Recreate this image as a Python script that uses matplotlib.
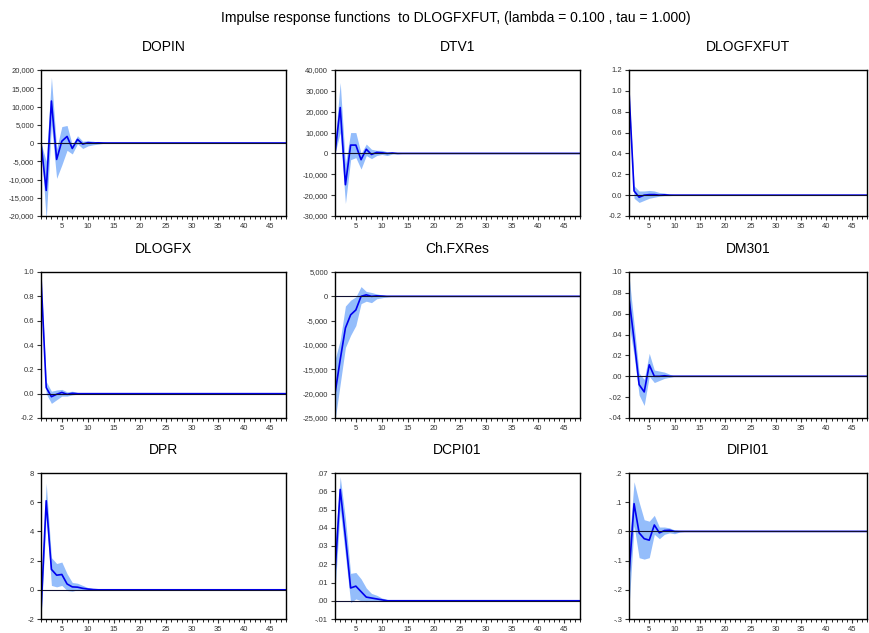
import matplotlib
matplotlib.use("Agg")
import matplotlib.pyplot as plt
import numpy as np

plt.rcParams['font.family'] = ['Liberation Sans', 'DejaVu Sans']

horizon = np.arange(1, 49)

titles = ["DOPIN", "DTV1", "DLOGFXFUT",
          "DLOGFX", "Ch.FXRes", "DM301",
          "DPR", "DCPI01", "DIPI01"]

# first periods, the rest is ~0
dopin = [0, -13000, 11500, -4500, 500, 1800, -1500, 1000, -300, 100, 0, 50, 0]
dopin_lo = [0, -21000, 5000, -9700, -6000, -2000, -3000, -200, -1500, -800, -500, -300, -100]
dopin_hi = [0, -5000, 18000, -1500, 4500, 4800, -500, 2000, 500, 600, 500, 200, 300]

dtv1 = [0, 22000, -15000, 4000, 4000, -3000, 2000, -500, 500, 300, 0, 200, 0]
dtv1_lo = [0, 10000, -24000, -3000, -2000, -7500, -1000, -2500, -1000, -500, -1000, -300, -200]
dtv1_hi = [5000, 34000, -5000, 10000, 10000, 0, 4500, 2000, 1500, 1500, 800, 500, 300]

dlogfxfut = [1.0, 0.04, -0.02, 0.0, 0.005, 0.005, 0.0, 0.003, 0.0, 0.0]
dlogfxfut_lo = [1.0, -0.03, -0.07, -0.05, -0.03, -0.02, -0.01, -0.005, -0.005, -0.002]
dlogfxfut_hi = [1.0, 0.09, 0.04, 0.04, 0.045, 0.04, 0.025, 0.02, 0.01, 0.005]

dlogfx = [0.96, 0.05, -0.025, -0.005, 0.01, -0.005, 0.003, 0.0, 0.0]
dlogfx_lo = [0.96, 0.0, -0.08, -0.05, -0.02, -0.02, -0.01, -0.005, -0.002]
dlogfx_hi = [0.96, 0.1, 0.02, 0.03, 0.035, 0.015, 0.02, 0.01, 0.005]

fxres = [-20000, -13000, -6500, -3800, -2800, 0, 300, 0, 100, 50, 0]
fxres_lo = [-25500, -18000, -10500, -8000, -6000, -1500, -1000, -1300, -500, -300, -100]
fxres_hi = [-13000, -9000, -2000, -800, -100, 2000, 1000, 800, 500, 300, 100]

dm301 = [0.075, 0.035, -0.008, -0.015, 0.011, 0.0, 0.0, 0.0005, 0.0]
dm301_lo = [0.05, 0.02, -0.018, -0.028, 0.0, -0.006, -0.004, -0.002, -0.001]
dm301_hi = [0.097, 0.05, 0.003, -0.003, 0.022, 0.006, 0.005, 0.004, 0.002]

dpr = [-1.5, 6.1, 1.4, 1.0, 1.05, 0.4, 0.2, 0.18, 0.1, 0.05, 0.02, 0.0]
dpr_lo = [-2.1, 5.0, 0.3, 0.2, 0.3, -0.05, -0.1, 0.0, 0.0, 0.0, 0.0, 0.0]
dpr_hi = [0.0, 7.3, 2.2, 1.8, 1.9, 1.1, 0.5, 0.45, 0.3, 0.15, 0.08, 0.03]

dcpi01 = [0.015, 0.061, 0.035, 0.007, 0.008, 0.005, 0.002, 0.0015, 0.001, 0.0005, 0.0]
dcpi01_lo = [0.005, 0.05, 0.025, -0.001, 0.001, 0.0, -0.0005, 0.0, 0.0, 0.0, 0.0]
dcpi01_hi = [0.03, 0.068, 0.045, 0.015, 0.0155, 0.012, 0.007, 0.004, 0.003, 0.0015, 0.0008]

dipi01 = [-0.15, 0.095, -0.005, -0.025, -0.03, 0.022, -0.005, 0.003, 0.004, 0.0, 0.0]
dipi01_lo = [-0.26, 0.02, -0.09, -0.095, -0.09, -0.01, -0.025, -0.01, -0.005, -0.008, -0.002]
dipi01_hi = [-0.05, 0.17, 0.1, 0.04, 0.035, 0.055, 0.015, 0.015, 0.012, 0.005, 0.003]

ylims = [(-20000, 20000), (-30000, 40000), (-0.2, 1.2),
         (-0.2, 1.0), (-25000, 5000), (-0.04, 0.10),
         (-2, 8), (-0.01, 0.07), (-0.3, 0.2)]

yticks = [[-20000, -15000, -10000, -5000, 0, 5000, 10000, 15000, 20000],
          [-30000, -20000, -10000, 0, 10000, 20000, 30000, 40000],
          [-0.2, 0.0, 0.2, 0.4, 0.6, 0.8, 1.0, 1.2],
          [-0.2, 0.0, 0.2, 0.4, 0.6, 0.8, 1.0],
          [-25000, -20000, -15000, -10000, -5000, 0, 5000],
          [-0.04, -0.02, 0.0, 0.02, 0.04, 0.06, 0.08, 0.10],
          [-2, 0, 2, 4, 6, 8],
          [-0.01, 0.0, 0.01, 0.02, 0.03, 0.04, 0.05, 0.06, 0.07],
          [-0.3, -0.2, -0.1, 0.0, 0.1, 0.2]]

ylabels = [["-20,000", "-15,000", "-10,000", "-5,000", "0", "5,000", "10,000", "15,000", "20,000"],
           ["-30,000", "-20,000", "-10,000", "0", "10,000", "20,000", "30,000", "40,000"],
           ["-0.2", "0.0", "0.2", "0.4", "0.6", "0.8", "1.0", "1.2"],
           ["-0.2", "0.0", "0.2", "0.4", "0.6", "0.8", "1.0"],
           ["-25,000", "-20,000", "-15,000", "-10,000", "-5,000", "0", "5,000"],
           ["-.04", "-.02", ".00", ".02", ".04", ".06", ".08", ".10"],
           ["-2", "0", "2", "4", "6", "8"],
           ["-.01", ".00", ".01", ".02", ".03", ".04", ".05", ".06", ".07"],
           ["-.3", "-.2", "-.1", ".0", ".1", ".2"]]

series = [(dopin, dopin_lo, dopin_hi), (dtv1, dtv1_lo, dtv1_hi),
          (dlogfxfut, dlogfxfut_lo, dlogfxfut_hi), (dlogfx, dlogfx_lo, dlogfx_hi),
          (fxres, fxres_lo, fxres_hi), (dm301, dm301_lo, dm301_hi),
          (dpr, dpr_lo, dpr_hi), (dcpi01, dcpi01_lo, dcpi01_hi),
          (dipi01, dipi01_lo, dipi01_hi)]


def pad(vals):
    out = np.zeros(len(horizon))
    out[:len(vals)] = vals
    return out


fig = plt.figure(figsize=(8.69, 6.33), dpi=100)
fig.text(0.525, 0.972, "Impulse response functions  to DLOGFXFUT, (lambda = 0.100 , tau = 1.000)",
         ha="center", va="center", fontsize=10)

lefts = [41 / 869, 335 / 869, 629 / 869]
bottoms = [1 - 216 / 633, 1 - 418 / 633, 1 - 619 / 633]
widths = [245 / 869, 245 / 869, 238 / 869]
h = 146 / 633

for i in range(9):
    r, c = divmod(i, 3)
    ax = fig.add_axes([lefts[c], bottoms[r], widths[c], h])
    mid, lo, hi = series[i]
    ax.fill_between(horizon, pad(lo), pad(hi), color="#94bdfb", lw=0)
    ax.plot(horizon, pad(mid), color="#0000ee", lw=1.2)
    ax.axhline(0, color="#101030", lw=0.8)
    ax.set_xlim(1, 48)
    ax.set_ylim(*ylims[i])
    ax.set_xticks(range(5, 48, 5))
    ax.set_xticks(range(1, 49), minor=True)
    ax.set_yticks(yticks[i])
    ax.set_yticklabels(ylabels[i])
    ax.tick_params(axis="both", which="major", labelsize=5.5, direction="out", length=3, width=0.8,
                   colors="#333333", pad=2)
    ax.tick_params(axis="x", which="minor", direction="out", length=2, width=0.6)
    ax.set_title(titles[i], fontsize=10, pad=14)
    for s in ax.spines.values():
        s.set_linewidth(1.0)

fig.savefig("out.png", dpi=100)
